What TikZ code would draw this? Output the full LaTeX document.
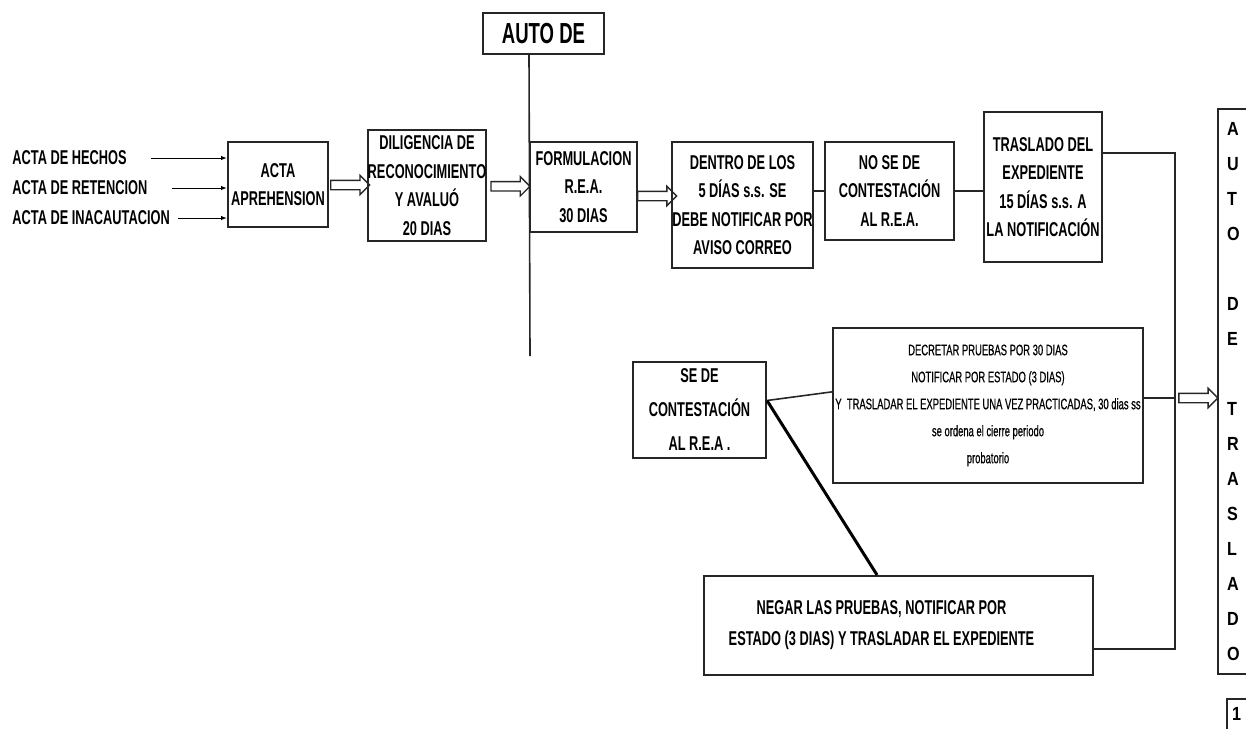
\documentclass[tikz,border=0pt]{standalone}
\usepackage{fontspec}
\usepackage{tikz}
\usetikzlibrary{arrows.meta,shapes.arrows}
\newfontfamily\hdfont{Liberation Sans}[FakeStretch=0.64]
\newfontfamily\ltfont{Liberation Sans}[FakeStretch=0.85]
\newfontfamily\nrfont{Liberation Sans}[FakeStretch=0.62, FakeBold=0.6]
\tikzset{
  lbl/.style={inner sep=0pt, font={\hdfont\bfseries\fontsize{10pt}{14.25pt}\selectfont}},
  box/.style={draw=black!85, line width=1pt, inner sep=0pt, align=center, font={\hdfont\bfseries\fontsize{10pt}{14.25pt}\selectfont}},
  fatarrow/.style={draw=black!85, line width=0.7pt, single arrow, single arrow head extend=2.5pt, single arrow tip angle=90, minimum height=19.5pt, inner xsep=0pt, inner ysep=2pt},
  conn/.style={draw=black!85, line width=0.8pt}
}
\begin{document}
\begin{tikzpicture}[x=0.5pt, y=-0.5pt]
    \useasboundingbox (0,0) rectangle (1246,728);
    \node[lbl, anchor=west] (hechos) at (12,158) {ACTA DE HECHOS};
    \node[lbl, anchor=west] (reten) at (12,188) {ACTA DE RETENCION};
    \node[lbl, anchor=west] (inac) at (12,218) {ACTA DE INACAUTACION};
    \node[box, minimum width=50pt, minimum height=42.5pt] (acta) at (278,184.5) {ACTA\\APREHENSION};
    \node[box, minimum width=59pt, minimum height=55.5pt] (dilig) at (427,185.5) {DILIGENCIA DE\\RECONOCIMIENTO\\Y AVALUÓ\\20 DIAS};
    \node[box, minimum width=60.5pt, minimum height=20.5pt, font={\hdfont\bfseries\fontsize{14.5pt}{17pt}\selectfont}] (autode) at (543.5,33.5) {AUTO DE};
    \node[box, minimum width=53.5pt, minimum height=45pt] (formul) at (583.5,187) {FORMULACION\\R.E.A.\\30 DIAS};
    \node[box, minimum width=64.5pt, minimum height=63pt] (dentro) at (742.5,205) {DENTRO DE LOS\\5 DÍAS s.s. SE\\DEBE NOTIFICAR POR\\AVISO CORREO};
    \node[box, minimum width=64.5pt, minimum height=49pt] (nose) at (889.5,191) {NO SE DE\\CONTESTACIÓN\\AL R.E.A.};
    \node[box, minimum width=59pt, minimum height=75pt] (trasl) at (1043,187) {TRASLADO DEL\\EXPEDIENTE\\15 DÍAS s.s. A\\LA NOTIFICACIÓN};
    \node[box, minimum width=155pt, minimum height=77.5pt, font={\nrfont\fontsize{7.6pt}{13.5pt}\selectfont}] (decretar) at (988,405.5) {DECRETAR PRUEBAS POR 30 DIAS\\NOTIFICAR POR ESTADO (3 DIAS)\\Y\ \ TRASLADAR EL EXPEDIENTE UNA VEZ PRACTICADAS, 30 dias ss\\se ordena el cierre periodo\\probatorio};
    \node[box, minimum width=66.5pt, minimum height=48pt, font={\hdfont\bfseries\fontsize{10pt}{17pt}\selectfont}] (sede) at (699.5,410) {SE DE\\CONTESTACIÓN\\AL R.E.A .};
    \node[box, minimum width=194.5pt, minimum height=49.5pt, font={\hdfont\bfseries\fontsize{10pt}{15.5pt}\selectfont}] (negar) at (898.5,625.5) {NEGAR LAS PRUEBAS, NOTIFICAR POR\hspace*{17pt}\\ESTADO (3 DIAS) Y TRASLADAR EL EXPEDIENTE\hspace*{17pt}};
    \node[box, anchor=north west, align=left, text width=18pt, inner xsep=4.5pt, minimum height=282.5pt, font={\ltfont\bfseries\fontsize{9.5pt}{17.5pt}\selectfont}] (autotras) at (1217,108) {A\\U\\T\\O\\~\\D\\E\\~\\T\\R\\A\\S\\L\\A\\D\\O};
    \node[box, anchor=north west, align=left, text width=5pt, inner xsep=2.5pt, inner ysep=4pt, text depth=20pt, font={\ltfont\bfseries\fontsize{9.5pt}{10pt}\selectfont}] (uno) at (1226,698) {1};
    \coordinate (vend) at (530,356);
    \coordinate (bustop) at (1175,153);
    \coordinate (busmid) at (1175,398);
    \coordinate (busbot) at (1175,649);
    \draw[-{Latex[length=3pt,width=2.2pt]}, line width=0.5pt, shorten <=12pt] (hechos.east) to (acta.west |- hechos.east);
    \draw[-{Latex[length=3pt,width=2.2pt]}, line width=0.5pt, shorten <=12pt] (reten.east) to (acta.west |- reten.east);
    \draw[-{Latex[length=3pt,width=2.2pt]}, line width=0.5pt, shorten <=4pt] (inac.east) to (acta.west |- inac.east);
    \path (acta.east) -- node[fatarrow] {} (dilig.west);
    \path (dilig.east) -- node[fatarrow] {} (formul.west);
    \path (formul.east) -- node[fatarrow] {} (dentro.west);
    \draw[conn] (autode.south -| formul.west) to (vend);
    \draw[conn] (dentro.east |- nose.west) to (nose.west);
    \draw[conn] (nose.east) to (trasl.west |- nose.east);
    \draw[conn] (trasl.east |- bustop) -- (bustop) -- (busbot) -- (negar.east |- busbot);
    \draw[conn] (decretar.east |- busmid) to (busmid);
    \path (busmid) -- node[fatarrow] {} (autotras.west |- busmid);
    \draw[conn] (sede.8) to (decretar.175);
    \draw[draw=black, line width=1.5pt] (sede.8) to (negar.113);
\end{tikzpicture}
\end{document}
